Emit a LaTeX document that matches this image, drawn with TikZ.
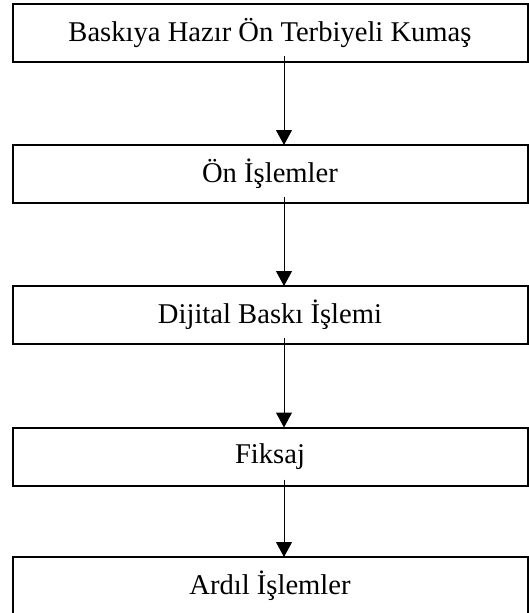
\documentclass[tikz,border=0pt]{standalone}
\usepackage{fontspec}
\setmainfont{Liberation Serif}
\usetikzlibrary{arrows.meta}
\begin{document}
\begin{tikzpicture}[x=1pt,y=-1pt,
  box/.style={draw=black,line width=2pt,minimum width=515pt,minimum height=58pt,inner sep=0pt,outer sep=0pt,
    font=\fontsize{28.6}{30}\selectfont},
  arr/.style={line width=1pt,-{Triangle[width=16pt,length=15pt]}}]
\useasboundingbox (0,0) rectangle (529,613);
\clip (0,0) rectangle (529,613);
\node[box] (b1) at (270,33) {Baskıya Hazır Ön Terbiyeli Kumaş};
\node[box] (b2) at (270,174) {Ön İşlemler};
\node[box] (b3) at (270,315) {Dijital Baskı İşlemi};
\node[box] (b4) at (270,456.5) {Fiksaj};
\node[box] (b5) at (270,586) {Ardıl İşlemler};
\draw[arr] ([xshift=14pt,yshift=6pt]b1.south) -- ([xshift=14pt]b2.north);
\draw[arr] ([xshift=14pt,yshift=6pt]b2.south) -- ([xshift=14pt]b3.north);
\draw[arr] ([xshift=14pt,yshift=6pt]b3.south) -- ([xshift=14pt]b4.north);
\draw[arr] ([xshift=14pt,yshift=6pt]b4.south) -- ([xshift=14pt]b5.north);
\end{tikzpicture}
\end{document}
